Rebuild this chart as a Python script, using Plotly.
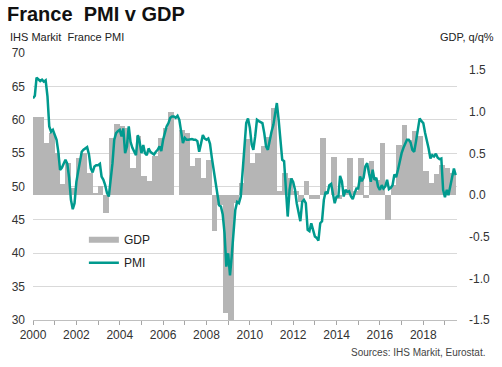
import pandas as pd
import plotly.graph_objects as go

# ---- data ----
pmi_start = "2000-01-01"
pmi_values = [
    63.2, 63.6, 66.3, 66.0, 65.8, 66.0, 65.7, 65.9, 63.5, 59.0, 58.2, 58.5,   # 2000
    57.8, 57.0, 55.3, 52.5, 52.8, 53.5, 54.0, 53.4, 51.3, 48.0, 46.6, 47.5,   # 2001
    50.7, 52.3, 53.8, 55.2, 55.5, 55.7, 55.9, 54.8, 52.7, 52.1, 53.0, 53.2,   # 2002
    53.2, 53.4, 51.5, 51.0, 50.2, 49.0, 48.5, 51.0, 53.5, 57.0, 58.0, 58.3,   # 2003
    58.5, 57.5, 58.7, 55.0, 56.0, 59.0, 56.7, 55.8, 55.2, 54.7, 57.7, 56.7,   # 2004
    55.0, 56.2, 55.0, 54.7, 55.7, 55.2, 55.0, 54.8, 55.2, 55.5, 56.0, 55.3,   # 2005
    57.0, 58.2, 59.0, 59.5, 60.3, 60.5, 60.5, 60.3, 60.6, 60.0, 58.0, 56.5,   # 2006
    57.3, 57.0, 57.0, 57.1, 57.1, 57.0, 57.0, 56.8, 55.2, 56.4, 57.7, 57.2,   # 2007
    57.0, 57.2, 56.4, 54.3, 52.5, 50.5, 49.0, 47.2, 47.0, 45.8, 43.0, 38.0,   # 2008
    40.0, 36.7, 39.5, 43.5, 46.5, 47.7, 47.5, 48.5, 52.3, 56.0, 59.5, 60.2,   # 2009
    58.8, 56.3, 55.5, 57.5, 60.0, 59.8, 59.7, 59.5, 58.0, 56.0, 55.5, 57.0,   # 2010
    58.2, 59.2, 60.7, 62.5, 60.0, 56.5, 54.0, 53.8, 49.5, 45.5, 49.5, 51.2,   # 2011
    50.7, 49.5, 47.5, 46.0, 44.8, 47.7, 48.0, 47.5, 43.5, 43.3, 44.5, 43.5,   # 2012
    42.5, 42.3, 41.9, 44.5, 44.8, 48.0, 49.2, 48.9, 50.2, 50.4, 49.0, 47.5,   # 2013
    48.5, 48.5, 51.6, 50.8, 48.5, 49.5, 49.2, 49.3, 48.5, 48.1, 49.0, 49.7,   # 2014
    49.7, 51.5, 50.8, 51.3, 53.0, 53.5, 52.0, 50.7, 52.5, 51.0, 51.3, 50.0,   # 2015
    49.5, 50.2, 49.7, 50.0, 51.0, 49.6, 49.8, 50.2, 51.8, 51.4, 52.5, 54.0,   # 2016
    55.0, 55.8, 56.5, 57.0, 57.0, 56.6, 55.5, 55.2, 56.8, 58.4, 60.2, 59.8,   # 2017
    59.5, 58.0, 57.0, 55.7, 54.2, 54.7, 54.5, 54.9, 54.3, 54.1, 54.2, 49.5,   # 2018
    48.4, 49.5, 48.7, 50.0, 51.2, 52.7, 51.7,                                 # 2019
]

gdp_start = "2000-02-01"   # middle month of each quarter
gdp_values = [
    0.94, 0.94, 0.63, 0.75,    # 2000
    0.50, 0.13, 0.38, 0.08,    # 2001
    0.45, 0.50, 0.27, 0.02,    # 2002
    0.11, -0.21, 0.69, 0.85,   # 2003
    0.83, 0.80, 0.33, 0.71,    # 2004
    0.23, 0.17, 0.47, 0.69,    # 2005
    0.81, 1.00, 0.00, 0.78,    # 2006
    0.74, 0.35, 0.45, 0.20,    # 2007
    0.42, -0.43, -0.12, -1.41, # 2008
    -1.51, -0.10, 0.15, 0.67,  # 2009
    0.39, 0.51, 0.59, 0.70,    # 2010
    1.04, 0.05, 0.27, 0.21,    # 2011
    0.05, -0.08, 0.17, -0.05,  # 2012
    -0.05, 0.68, 0.00, 0.46,   # 2013
    -0.05, 0.05, 0.44, 0.05,   # 2014
    0.45, -0.03, 0.41, 0.18,   # 2015
    0.63, -0.30, 0.12, 0.60,   # 2016
    0.84, 0.66, 0.77, 0.71,    # 2017
    0.29, 0.14, 0.25, 0.36,    # 2018
    0.33, 0.27,                # 2019
]

gdp_ticks = [-1.5, -1.0, -0.5, 0.0, 0.5, 1.0, 1.5]
gdp_tick_text = ["-1.5", "-1.0", "-0.5", "0.0", "0.5", "1.0", "1.5"]

pmi_dates = pd.date_range(pmi_start, periods=len(pmi_values), freq="MS")
gdp_dates = pd.date_range(gdp_start, periods=len(gdp_values), freq="3MS") + pd.Timedelta(days=14)

TEAL = "#009a8e"
GREY_BAR = "#b5b5b5"
FONT = "Arial, Liberation Sans, sans-serif"

fig = go.Figure()

fig.add_trace(go.Bar(
    x=gdp_dates, y=gdp_values, yaxis="y",
    marker=dict(color=GREY_BAR, line=dict(width=0)),
    width=92 * 86400000, showlegend=False, name="GDP",
))
fig.add_trace(go.Scatter(
    x=[None], y=[None], yaxis="y", mode="lines",
    line=dict(color=GREY_BAR, width=6), name="GDP", legendgroup="a",
))
fig.add_trace(go.Scatter(
    x=pmi_dates, y=pmi_values, yaxis="y2", mode="lines",
    line=dict(color=TEAL, width=2.5), name="PMI", legendgroup="b",
))

fig.update_layout(
    width=502, height=367,
    margin=dict(l=33, r=43, t=53, b=47),
    paper_bgcolor="white", plot_bgcolor="white",
    font=dict(family=FONT, size=12, color="#333333"),
    bargap=0,
    showlegend=True,
    legend=dict(x=0.12, y=0.355, xanchor="left", yanchor="top",
                bgcolor="rgba(0,0,0,0)", font=dict(size=12, color="#222222"),
                tracegroupgap=4, itemwidth=30),
    title=dict(text="<b>France\u00a0 PMI v GDP</b>", x=7 / 502, xref="container",
               xanchor="left", y=1 - 14 / 367, yref="container", yanchor="middle",
               font=dict(size=20, color="#111111", family=FONT)),
    xaxis=dict(
        type="date", range=["2000-01-01", "2019-07-23"],
        tick0="2000-01-01", dtick="M24", tickformat="%Y",
        ticks="outside", ticklen=4, tickcolor="#a6a6a6",
        minor=dict(dtick="M12", ticks="outside", ticklen=4, tickcolor="#a6a6a6"),
        showline=True, linecolor="#bfbfbf", linewidth=1,
        showgrid=False, zeroline=False,
        tickfont=dict(size=12, color="#333333"),
    ),
    yaxis=dict(
        side="right", range=[-1.5, 1.704],
        tickvals=gdp_ticks, ticktext=gdp_tick_text,
        showgrid=False, zeroline=False, ticks="",
        ticklabelstandoff=11,
        tickfont=dict(size=12, color="#333333"),
    ),
    yaxis2=dict(
        overlaying="y", side="left", range=[30, 70], dtick=5, tick0=30,
        showgrid=True, gridcolor="#d9d9d9", gridwidth=1, zeroline=False,
        ticks="", ticklabelstandoff=7,
        tickfont=dict(size=12, color="#333333"),
    ),
    annotations=[
        dict(text="IHS Markit\u00a0 France PMI", xref="paper", yref="paper",
             x=-25 / 426, y=(320 - 37) / 267, xanchor="left", yanchor="middle",
             showarrow=False, font=dict(size=11, color="#222222")),
        dict(text="GDP, q/q%", xref="paper", yref="paper",
             x=(498 - 33) / 426, y=(320 - 37) / 267, xanchor="right", yanchor="middle",
             showarrow=False, font=dict(size=11, color="#222222")),
        dict(text="Sources: IHS Markit, Eurostat.", xref="paper", yref="paper",
             x=(490 - 33) / 426, y=(320 - 352) / 267, xanchor="right", yanchor="middle",
             showarrow=False, font=dict(size=10, color="#444444")),
    ],
)

fig.write_html("out.html", config={"displayModeBar": False},
               post_script="document.body.style.margin='0';")
